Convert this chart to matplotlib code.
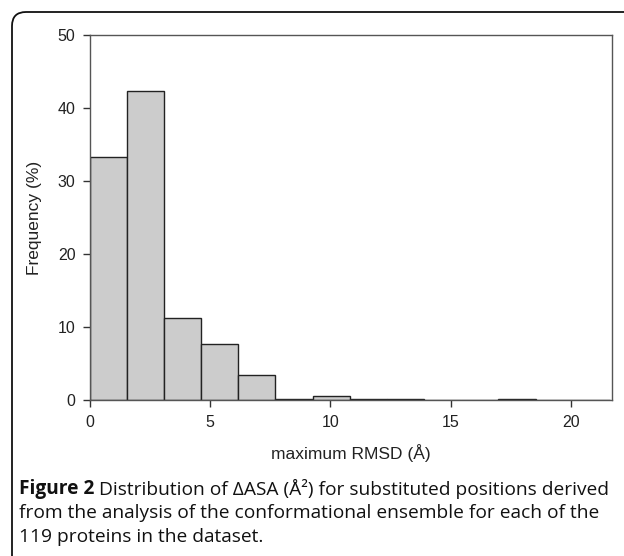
import numpy as np
import matplotlib.pyplot as plt
from matplotlib.patches import PathPatch
from matplotlib.path import Path

# histogram data
bin_width = 1.543
freq = [33.3, 42.3, 11.2, 7.7, 3.4, 0.2, 0.6, 0.2, 0.1, 0.0, 0.0, 0.2, 0.0, 0.0]
x_ticks = [0, 5, 10, 15, 20]
y_ticks = [0, 10, 20, 30, 40, 50]

caption_bold = "Figure 2"
caption_lines = [" Distribution of \u0394ASA (\u00c5\u00b2) for substituted positions derived",
                 "from the analysis of the conformational ensemble for each of the",
                 "119 proteins in the dataset."]

fig = plt.figure(figsize=(6.24, 5.56), dpi=100)
W, H = 624, 556

# rounded frame, open at bottom and right (pixel coords, y from top)
r = 14
verts = [(12, H), (12, 12+r), (12, 12), (12+r, 12), (W+5, 12)]
codes = [Path.MOVETO, Path.LINETO, Path.CURVE3, Path.CURVE3, Path.LINETO]
frame = PathPatch(Path([(x/W, 1-y/H) for x, y in verts], codes), fill=False,
                  lw=1.3, edgecolor='#111111', transform=fig.transFigure)
fig.patches.append(frame)

ax = fig.add_axes([89.5/W, 1-400/H, (612.3-89.5)/W, (400-35)/H])
edges = np.arange(len(freq)) * bin_width
ax.bar(edges, freq, width=bin_width, align='edge', color='#cccccc',
       edgecolor='#222222', linewidth=1.0)
ax.set_xlim(0, 21.7)
ax.set_ylim(0, 50)
ax.set_xticks(x_ticks)
ax.set_yticks(y_ticks)
for s in ax.spines.values():
    s.set_color('#555555')
    s.set_linewidth(1.0)
ax.tick_params(direction='out', length=5, width=1, color='#333333',
               labelsize=11.5, labelcolor='#222222', pad=5)
ax.tick_params(axis='x', pad=6)
for lab in ax.get_xticklabels() + ax.get_yticklabels():
    lab.set_family('Liberation Sans')
ax.set_xlabel('maximum RMSD (\u00c5)', family='Liberation Sans', fontsize=12.5,
              color='#222222', labelpad=10)
ax.set_ylabel('Frequency (%)', family='Liberation Sans', fontsize=12.5,
              color='#222222', labelpad=11)

# caption
fig.canvas.draw()
rend = fig.canvas.get_renderer()
x0 = 19/W
fs = 13.8
t = fig.text(x0, 1-489/H, caption_bold, family='Open Sans', weight='bold',
             fontsize=fs, va='center', color='#111111')
bb = t.get_window_extent(renderer=rend)
fig.text(bb.x1/W, 1-489/H, caption_lines[0], family='Open Sans', fontsize=fs,
         va='center', color='#111111')
fig.text(x0, 1-513/H, caption_lines[1], family='Open Sans', fontsize=fs,
         va='center', color='#111111')
fig.text(x0, 1-537/H, caption_lines[2], family='Open Sans', fontsize=fs,
         va='center', color='#111111')

fig.savefig('out.png', dpi=100)
